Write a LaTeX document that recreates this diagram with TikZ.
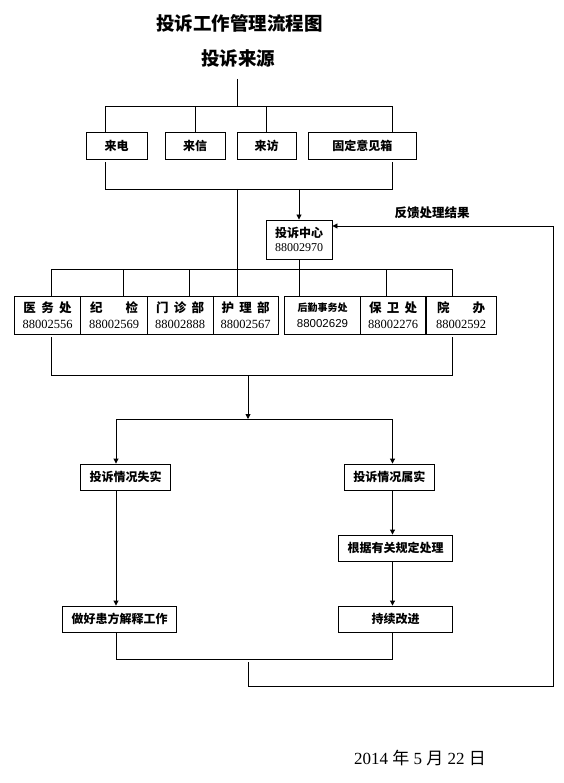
\documentclass[tikz,border=0pt]{standalone}
\usepackage{fontspec}
\setmainfont{Liberation Serif}
\newfontfamily\cjk{Noto Sans CJK SC}
\newfontfamily\arialfont{Liberation Sans}
\usetikzlibrary{arrows.meta,positioning}

\tikzset{
  flow/.style={line width=0.9pt},
  arr/.style={flow, -{Triangle[length=5pt,width=5pt]}},
  srcbox/.style={draw, line width=0.9pt, minimum height=27pt, inner sep=0pt,
    font=\cjk\bfseries\fontsize{12}{14}\selectfont},
  deptbox/.style={draw, line width=0.9pt, minimum height=38pt, inner sep=0pt,
    align=center, font=\fontsize{12.5}{16}\selectfont},
  stagebox/.style={draw, line width=0.9pt, minimum height=26pt, inner sep=0pt,
    font=\cjk\bfseries\fontsize{12}{14}\selectfont},
}
\newcommand{\spreadname}[1]{{\cjk\bfseries\makebox[48pt][s]{#1}}}

\begin{document}
\begin{tikzpicture}[x=1pt,y=-1pt]
    \useasboundingbox (0,0) rectangle (563,783);

    % headings
    \node[font=\cjk\bfseries\fontsize{18.5}{20}\selectfont] (title) at (239.5,23) {投诉工作管理流程图};
    \node[font=\cjk\bfseries\fontsize{18.5}{20}\selectfont] (origin) at (238,58) {投诉来源};

    % complaint sources
    \node[srcbox, minimum width=60.6pt] (phone) at (116.7,145.5) {来电};
    \node[srcbox, minimum width=60.4pt] (letter) at (195.2,145.5) {来信};
    \node[srcbox, minimum width=59pt] (visit) at (266.5,145.5) {来访};
    \node[srcbox, minimum width=108.6pt] (mailbox) at (362.3,145.5) {固定意见箱};

    \coordinate (srcin) at (237,79);
    \coordinate (srcL) at (105,106);
    \coordinate (srcR) at (392.5,106);
    \coordinate (srcbotL) at (105,189);
    \coordinate (srcbotR) at (392.5,189);
    \coordinate (srcmid) at (237,189);

    \draw[flow] (srcin) -- (srcin |- srcL);
    \draw[flow] (srcL |- phone.north) -- (srcL) -- (srcR) -- (srcR |- mailbox.north);
    \draw[flow] (letter.north) -- (letter.north |- srcL);
    \draw[flow] (visit.north) -- (visit.north |- srcL);
    \draw[flow] ([yshift=-3pt]srcL |- phone.south) -- (srcbotL) -- (srcbotR)
        -- ([yshift=-3pt]srcR |- mailbox.south);

    % complaint centre
    \node[deptbox, minimum width=66pt, minimum height=39pt,
          font=\fontsize{12}{14}\selectfont] (centre) at (299,239.5)
          {{\cjk\bfseries 投诉中心}\\88002970};
    \draw[arr] (centre.north |- srcbotL) -- (centre.north);
    \node[font=\cjk\bfseries\fontsize{12.5}{14}\selectfont] (fblabel) at (432,213) {反馈处理结果};

    % departments
    \node[deptbox, minimum width=66.3pt] (medical) at (47.5,315) {\spreadname{医\hfill 务\hfill 处}\\88002556};
    \node[deptbox, minimum width=66.3pt] (discipline) at (114,315) {\spreadname{纪\hfill 检}\\88002569};
    \node[deptbox, minimum width=66pt] (outpatient) at (180,315) {\spreadname{门\hfill 诊\hfill 部}\\88002888};
    \node[deptbox, minimum width=65pt] (nursing) at (245.5,315) {\spreadname{护\hfill 理\hfill 部}\\88002567};
    \node[deptbox, minimum width=76pt] (logistics) at (322.5,315)
          {{\cjk\bfseries\fontsize{10}{12}\selectfont 后勤事务处}\\{\arialfont\fontsize{11.5}{14}\selectfont 88002629}};
    \node[deptbox, minimum width=65.5pt] (security) at (393,315) {\spreadname{保\hfill 卫\hfill 处}\\88002276};
    \node[deptbox, minimum width=70pt] (office) at (461,315) {\spreadname{院\hfill 办}\\88002592};

    \coordinate (deptL) at (51,269);
    \coordinate (deptR) at (452.6,269);
    \draw[flow] (deptL |- medical.north) -- (deptL) -- (deptR) -- (deptR |- office.north);
    \foreach \n/\dx in {discipline/9, outpatient/9, security/-7}
        \draw[flow] ([xshift=\dx pt]\n.north |- deptL) -- ([xshift=\dx pt]\n.north);
    \draw[flow] (centre.south) -- (centre.south |- logistics.north);
    \draw[flow] (srcmid) -- (srcmid |- nursing.north);

    \coordinate (merge) at (248,375);
    \coordinate (split) at (248,419);
    \draw[flow] ([yshift=-3pt]deptL |- medical.south) -- (deptL |- merge) -- (deptR |- merge)
        -- ([yshift=-3pt]deptR |- office.south);
    \draw[arr] (merge) -- (split);

    % handling
    \coordinate (colL) at (116,0);
    \coordinate (colR) at (392.5,0);
    \node[stagebox, minimum width=90pt] (untrue) at (125.7,477) {投诉情况失实};
    \node[stagebox, minimum width=90.6pt] (true) at (389.3,477) {投诉情况属实};
    \node[stagebox, minimum width=114pt] (rules) at (395.5,548) {根据有关规定处理};
    \node[stagebox, minimum width=114pt] (explain) at (119.7,619) {做好患方解释工作};
    \node[stagebox, minimum width=114pt] (improve) at (395.5,619) {持续改进};

    \draw[flow] (colL |- split) -- (colR |- split);
    \draw[arr] (colL |- split) -- (colL |- untrue.north);
    \draw[arr] (colR |- split) -- (colR |- true.north);
    \draw[arr] (colR |- true.south) -- (colR |- rules.north);
    \draw[arr] (colR |- rules.south) -- (colR |- improve.north);
    \draw[arr] (colL |- untrue.south) -- (colL |- explain.north);

    \coordinate (joinL) at (116,659);
    \coordinate (joinR) at (392.5,659);
    \draw[flow] (colL |- explain.south) -- (joinL) -- (joinR) -- (colR |- improve.south);

    % feedback loop
    \coordinate (fbstart) at (248,662);
    \coordinate (fbcorner) at (553.5,686);
    \draw[arr] (fbstart) |- (fbcorner) |- ([yshift=13.5pt]centre.east);

    % date
    \node[font=\fontsize{17}{20}\selectfont] (date) at (420,758)
          {2014 {\cjk 年} 5 {\cjk 月} 22 {\cjk 日}};
\end{tikzpicture}
\end{document}
